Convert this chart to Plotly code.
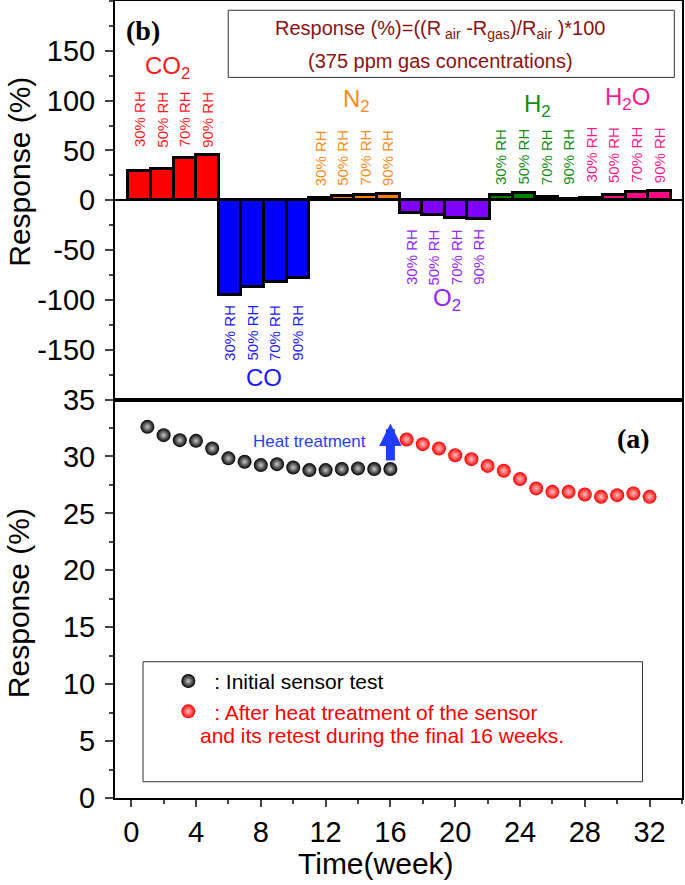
import plotly.graph_objects as go

# ---------------- data ----------------
gas_names = ["CO<sub>2</sub>", "CO", "N<sub>2</sub>", "O<sub>2</sub>", "H<sub>2</sub>", "H<sub>2</sub>O"]
rh_levels = ["30% RH", "50% RH", "70% RH", "90% RH"]
co2_resp = [29, 31, 42, 45]
co_resp = [-95, -87, -82.5, -78.5]
n2_resp = [2, 4, 5, 6.5]
o2_resp = [-12.5, -15, -17.5, -19]
h2_resp = [5, 7.5, 3, 1.5]
h2o_resp = [2, 5.5, 8.5, 9.5]

weeks_initial = list(range(1, 17))
resp_initial = [32.6, 31.87, 31.43, 31.37, 30.70, 29.83, 29.53, 29.24,
                29.32, 29.03, 28.80, 28.80, 28.89, 28.95, 28.89, 28.89]
weeks_after = list(range(17, 33))
resp_after = [31.49, 31.08, 30.70, 30.11, 29.76, 29.17, 28.74, 28.01,
              27.19, 26.89, 26.89, 26.66, 26.45, 26.60, 26.75, 26.45]

x_ticks = list(range(0, 33, 4))
y_ticks_a = list(range(0, 36, 5))
y_ticks_b = list(range(-150, 151, 50))

# ---------------- styles ----------------
gas_colors = ["#ff0000", "#0000ff", "#ff8000", "#8000ff", "#008000", "#ff0a84"]
label_colors = ["#ff1a1a", "#1a1aff", "#ff8c1a", "#9326ff", "#168a16", "#ff1a8c"]
gas_label_y = [133, -178, 100, -100, 95, 102]
gas_label_dx = [-0.25, 0, 0.1, 0.1, 0.1, 0.1]
FONT = "Arial, Liberation Sans, sans-serif"
SERIF = "Times New Roman, Liberation Serif, serif"

all_resp = [co2_resp, co_resp, n2_resp, o2_resp, h2_resp, h2o_resp]

fig = go.Figure()
annotations = []

for g, (name, vals) in enumerate(zip(gas_names, all_resp)):
    pos = [g * 4 + i + 1 for i in range(len(vals))]
    fig.add_trace(go.Bar(
        x=pos, y=vals, width=1, xaxis="x2", yaxis="y2",
        marker=dict(color=gas_colors[g], line=dict(color="black", width=3)),
        showlegend=False, hoverinfo="skip"))
    positive = vals[0] > 0
    ext = max(vals) if positive else min(vals)
    for p, rh in zip(pos, rh_levels):
        annotations.append(dict(
            x=p, y=ext + (6 if positive else -8), xref="x2", yref="y2",
            text=rh, textangle=-90, showarrow=False,
            xanchor="center", yanchor="bottom" if positive else "top",
            font=dict(family=FONT, size=15, color=label_colors[g])))
    annotations.append(dict(
        x=g * 4 + 2.5 + gas_label_dx[g], y=gas_label_y[g], xref="x2", yref="y2",
        text=name, showarrow=False, xanchor="center", yanchor="middle",
        font=dict(family=FONT, size=24, color=label_colors[g])))

fig.add_trace(go.Scatter(
    x=weeks_initial, y=resp_initial, mode="markers", xaxis="x", yaxis="y",
    name=" : Initial sensor test", legendgroup="a",
    marker=dict(size=14, color="#000000",
                gradient=dict(type="radial", color="#c8c8c8"),
                line=dict(width=0))))
fig.add_trace(go.Scatter(
    x=weeks_after, y=resp_after, mode="markers", xaxis="x", yaxis="y",
    name='<span style="color:#ff0000"> : After heat treatment of the sensor</span>',
    legendgroup="b",
    marker=dict(size=14, color="#ff0000",
                gradient=dict(type="radial", color="#ffc0c0"),
                line=dict(width=0))))

# text annotations
annotations += [
    dict(x=1.15, y=170, xref="x2", yref="y2", text="<b>(b)</b>", showarrow=False,
         font=dict(family=SERIF, size=28, color="black")),
    dict(x=14.3, y=171, xref="x2", yref="y2",
         text="Response (%)=((R<sub> air</sub> -R<sub>gas</sub>)/R<sub>air</sub> )*100",
         showarrow=False, font=dict(family=FONT, size=20, color="#8b1212")),
    dict(x=14.3, y=140, xref="x2", yref="y2", text="(375 ppm gas concentrations)",
         showarrow=False, font=dict(family=FONT, size=20, color="#8b1212")),
    dict(x=31.0, y=31.6, xref="x", yref="y", text="<b>(a)</b>", showarrow=False,
         font=dict(family=SERIF, size=28, color="black")),
    dict(x=11.0, y=31.35, xref="x", yref="y", text="Heat treatment", showarrow=False,
         font=dict(family=FONT, size=17, color="#2b3cff")),
    dict(x=16.0, y=32.9, ax=16.0, ay=29.5, xref="x", yref="y", axref="x", ayref="y",
         text="", showarrow=True, arrowhead=2, arrowsize=0.5, arrowwidth=9,
         arrowcolor="#1f3cff", standoff=0, startstandoff=0),
    dict(x=4.1, y=5.47, xref="x", yref="y", xanchor="left",
         text="and its retest during the final 16 weeks.", showarrow=False,
         font=dict(family=FONT, size=21, color="#ff0000")),
    dict(x=-0.169, y=0.786, xref="paper", yref="paper", text="Response (%)",
         textangle=-90, showarrow=False, xanchor="center", yanchor="middle",
         font=dict(family=FONT, size=30, color="black")),
    dict(x=-0.169, y=0.2447, xref="paper", yref="paper", text="Response (%)",
         textangle=-90, showarrow=False, xanchor="center", yanchor="middle",
         font=dict(family=FONT, size=30, color="black")),
    dict(x=0.461, y=-0.0828, xref="paper", yref="paper", text="Time(week)",
         showarrow=False, xanchor="center", yanchor="middle",
         font=dict(family=FONT, size=30, color="black")),
]

shapes = [
    dict(type="rect", xref="x2", yref="y2", x0=4.92, x1=24.66, y0=123.3, y1=190.7,
         line=dict(color="#333333", width=1), fillcolor="rgba(0,0,0,0)"),
    dict(type="rect", xref="x", yref="y", x0=0.73, x1=31.56, y0=1.43, y1=11.97,
         line=dict(color="#333333", width=1), fillcolor="rgba(0,0,0,0)"),
]

TICKFONT = dict(family=FONT, size=29, color="black")
axis_common = dict(showline=True, linecolor="black", linewidth=2, mirror=True,
                   showgrid=False, zeroline=False, automargin=False,
                   tickfont=TICKFONT)

fig.update_layout(
    template="none",
    width=685, height=885,
    margin=dict(l=115, r=3, t=1, b=87, autoexpand=False),
    paper_bgcolor="white", plot_bgcolor="white",
    showlegend=True,
    legend=dict(x=0.094, y=0.172, xanchor="left", yanchor="top",
                bgcolor="rgba(0,0,0,0)", borderwidth=0,
                traceorder="grouped", tracegroupgap=0,
                font=dict(family=FONT, size=21, color="black")),
    xaxis=dict(domain=[0, 1], anchor="y", range=[-1, 34], tickmode="array",
               tickvals=x_ticks, ticktext=[str(v) for v in x_ticks],
               ticks="outside", ticklen=7, tickwidth=2,
               minor=dict(tick0=0, dtick=2, ticks="outside", ticklen=4, tickwidth=2),
               **axis_common),
    yaxis=dict(domain=[0, 0.5], anchor="x", range=[0, 35], tickmode="array",
               tickvals=y_ticks_a, ticktext=[str(v) for v in y_ticks_a],
               ticks="outside", ticklen=8, tickwidth=2, ticklabelstandoff=4,
               minor=dict(tick0=0, dtick=2.5, ticks="outside", ticklen=4, tickwidth=2),
               **axis_common),
    xaxis2=dict(domain=[0, 1], anchor="y2", range=[-0.09, 25.0],
                showticklabels=False, ticks="", automargin=False,
                showline=True, linecolor="black", linewidth=2, mirror=True,
                showgrid=False, zeroline=False),
    yaxis2=dict(domain=[0.5, 1], anchor="x2", range=[-200, 200], tickmode="array",
                tickvals=y_ticks_b, ticktext=[str(v) for v in y_ticks_b],
                ticks="outside", ticklen=8, tickwidth=2, automargin=False,
                ticklabelstandoff=4,
                minor=dict(tick0=0, dtick=25, ticks="outside", ticklen=4, tickwidth=2),
                showline=True, linecolor="black", linewidth=2, mirror=True,
                showgrid=False, zeroline=True, zerolinecolor="black", zerolinewidth=2,
                tickfont=TICKFONT),
    annotations=annotations,
    shapes=shapes,
    bargap=0,
)

fig.write_html("out.html", config={"displayModeBar": False},
               post_script="document.body.style.margin='0';document.body.style.overflow='hidden';")
